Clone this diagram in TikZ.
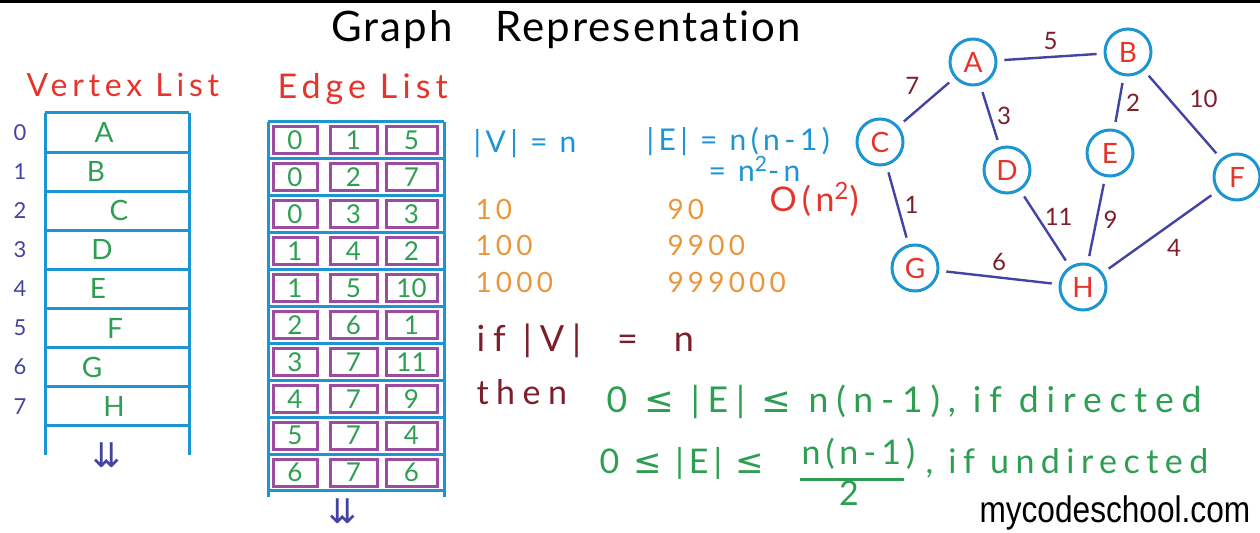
\documentclass[tikz,border=0pt]{standalone}
\usepackage{fontspec}
\setmainfont{Lato}
\newfontfamily\handfont{Lato}[LetterSpace=15, Ligatures=CommonOff]
\newfontfamily\widefont{Lato}[LetterSpace=22, Ligatures=CommonOff]
\newfontfamily\titlefont{Lato}[LetterSpace=5, Ligatures=CommonOff]
\newfontfamily\symfont{DejaVu Sans}
\newfontfamily\logofont{Liberation Sans}
\usetikzlibrary{positioning}
\definecolor{cred}{HTML}{E5342C}
\definecolor{cgreen}{HTML}{2E9E52}
\definecolor{cnavy}{HTML}{4343A3}
\definecolor{cblue}{HTML}{1C95D2}
\definecolor{cpurple}{HTML}{9C4D9F}
\definecolor{corange}{HTML}{EA963C}
\definecolor{cmaroon}{HTML}{7C1E2C}
\tikzset{
  every picture/.style={line width=1.5pt},
  hand/.style={font=\handfont\fontsize{#1}{#1}\selectfont, inner sep=0pt, anchor=base west},
  hand/.default=15,
  wide/.style={font=\widefont\fontsize{#1}{#1}\selectfont, inner sep=0pt, anchor=base west},
  wide/.default=17,
  tbl/.style={draw=cblue, line width=1.5pt},
  idx/.style={text=cnavy, font=\fontsize{11}{11}\selectfont},
  entry/.style={text=cgreen, font=\fontsize{14}{14}\selectfont},
  cell/.style={draw=cpurple, line width=1.5pt, minimum height=13.5pt, inner sep=0pt, text=cgreen, font=\fontsize{13}{13}\selectfont},
  more/.style={text=cnavy, font=\symfont\fontsize{17}{17}\selectfont, inner sep=0pt},
  vtx/.style={circle, draw=cblue, line width=1.5pt, minimum size=23pt, inner sep=0pt, text=cred, font=\fontsize{14}{14}\selectfont},
  gedge/.style={draw=cnavy, line width=1.2pt, shorten >=3.5pt, shorten <=3.5pt},
  wt/.style={text=cmaroon, font=\fontsize{12}{12}\selectfont, inner sep=3pt},
}
\begin{document}
\begin{tikzpicture}[x=0.5pt, y=-0.5pt]
  \useasboundingbox (0,0) rectangle (1260,533);
  \fill[black] (0,0) rectangle (1260,3);
  % ---- title
  \node[font=\titlefont\fontsize{21}{21}\selectfont, inner sep=0pt, anchor=base west] (title) at (330,42) {Graph\hspace{1em}Representation};
  % ---- vertex list
  \node[hand=16, text=cred] (vhead) at (25,97) {Vertex List};
  \foreach \k in {0,...,8} \draw[tbl] (45,{113+39.1*\k}) -- (189,{113+39.1*\k});
  \draw[tbl] (45,113) -- (45,455) (189,113) -- (189,455);
  \foreach \v/\dx [count=\i from 0] in {A/104,B/96,C/119,D/102,E/98,F/115,G/92,H/114} {
    \node[idx] (vi\i) at (20,{113+39.1*(\i+0.5)}) {\i};
    \node[entry] (v\i) at (\dx,{113+39.1*(\i+0.5)}) {\v};
  }
  \node[more] (vmore) at (107,455) {⇊};
  % ---- edge list
  \node[hand=17, text=cred] (ehead) at (276,99) {Edge List};
  \foreach \k in {0,...,10} \draw[tbl] (268,{122+36.9*\k}) -- (444,{122+36.9*\k});
  \draw[tbl] (268,122) -- (268,497) (444,122) -- (444,497);
  \foreach \a/\b/\w [count=\i from 0] in {0/1/5,0/2/7,0/3/3,1/4/2,1/5/10,2/6/1,3/7/11,4/7/9,5/7/4,6/7/6} {
    \node[cell, minimum width=22pt] (ea\i) at (295,{122+36.9*(\i+0.5)}) {\a};
    \node[cell, minimum width=23.5pt] (eb\i) at (353.5,{122+36.9*(\i+0.5)}) {\b};
    \node[cell, minimum width=25.5pt] (ew\i) at (411.5,{122+36.9*(\i+0.5)}) {\w};
  }
  \node[more] (emore) at (343,511) {⇊};
  % ---- counting edges
  \node[hand, text=cblue] (vcount) at (472,153) {|V| = n};
  \node[hand, text=cblue] (ecount) at (645,151) {|E| = n(n-1)};
  \node[hand, text=cblue] (esquare) at (707,182) {= n\textsuperscript{2}-n};
  \node[hand=17, text=cred] (bigo) at (768,212) {O(n\textsuperscript{2})};
  \foreach \n/\m/\y in {10/90/220,100/9900/256,1000/999000/293} {
    \node[hand=14, text=corange] (n\n) at (474,\y) {\n};
    \node[hand=14, text=corange] (m\n) at (666,\y) {\m};
  }
  % ---- bounds
  \node[wide=18, text=cmaroon] (ifv) at (475,352) {if |V|\quad=\quad n};
  \node[wide, text=cmaroon] (then) at (475,405) {then};
  \node[wide=17.8, text=cgreen] (directed) at (605,413) {0 {\symfont ≤} |E| {\symfont ≤} n(n-1), if directed};
  \node[hand=17, text=cgreen] (ulow) at (598,474) {0 {\symfont ≤} |E| {\symfont ≤}};
  \node[hand=17, text=cgreen] (unum) at (800,465) {n(n-1)};
  \draw[cgreen, line width=1.3pt] (unum.south west) ++(0,8) -- ++(104,0) coordinate (ubar);
  \node[hand=17, text=cgreen, anchor=center] (uden) at (849,493) {2};
  \node[font=\handfont\fontsize{17}{17}\selectfont\addfontfeature{LetterSpace=19}, inner sep=0pt, anchor=base west, text=cgreen] (urest) at (924,474) {, if undirected};
  % ---- graph
  \node[vtx] (A) at (973,62) {A};
  \node[vtx] (B) at (1128,52) {B};
  \node[vtx] (C) at (880,142) {C};
  \node[vtx] (D) at (1007,170) {D};
  \node[vtx] (E) at (1110,153) {E};
  \node[vtx] (F) at (1237,177) {F};
  \node[vtx] (G) at (915,268) {G};
  \node[vtx] (H) at (1083,287) {H};
  \draw[gedge] (A) -- node[wt, above] {5} (B);
  \draw[gedge] (A) -- node[wt, above left] {7} (C);
  \draw[gedge] (A) -- node[wt, right] {3} (D);
  \draw[gedge] (B) -- node[wt, right] {2} (E);
  \draw[gedge] (B) -- node[wt, above right] {10} (F);
  \draw[gedge] (C) -- node[wt, right] {1} (G);
  \draw[gedge] (D) -- node[wt, right, pos=0.35] {11} (H);
  \draw[gedge] (E) -- node[wt, right] {9} (H);
  \draw[gedge] (F) -- node[wt, below right] {4} (H);
  \draw[gedge] (G) -- node[wt, above] {6} (H);
  % ---- logo
  \node[anchor=base west, inner sep=0pt] (logo) at (978,523) {\logofont\fontsize{18.5}{18.5}\selectfont\scalebox{0.855}[1]{mycodeschool.com}};
\end{tikzpicture}
\end{document}
